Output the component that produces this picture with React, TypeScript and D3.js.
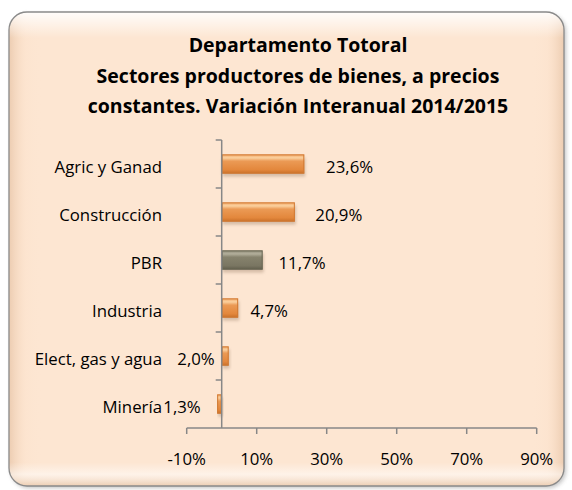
import React from "react";
import * as d3 from "d3";

const categories = ["Agric y Ganad", "Construcción", "PBR", "Industria", "Elect, gas y agua", "Minería"];
const values = [23.6, 20.9, 11.7, 4.7, 2.0, -1.3];
const valueLabels = ["23,6%", "20,9%", "11,7%", "4,7%", "2,0%", "1,3%"];
const highlighted = ["PBR"];
const xTicks = [-10, 10, 30, 50, 70, 90];
const titleLines = [
  "Departamento Totoral",
  "Sectores productores de bienes, a precios",
  "constantes. Variación Interanual 2014/2015",
];

const W = 572;
const H = 490;
const FONT = "'Open Sans', 'Noto Sans', sans-serif";
const LABEL_SIZE = 16.8;

export default function App() {
  const x = d3.scaleLinear().domain([-10, 90]).range([186.7, 536.7]);
  const y = d3.scaleBand<string>().domain(categories).range([140, 428]).paddingInner(0.6).paddingOuter(0.3);
  const band = d3.scaleBand<string>().domain(categories).range([140, 428]);
  const x0 = x(0);
  const axisColor = "#878787";
  const fx = 9, fy = 12, fw = 555, fh = 474;

  return (
    <svg width={W} height={H} style={{ position: "absolute", left: 0, top: 0 }} fontFamily={FONT}>
      <defs>
        <linearGradient id="bgV" x1="0" y1="0" x2="0" y2="1">
          <stop offset="0" stopColor="#ffffff" stopOpacity="0.9" />
          <stop offset="0.055" stopColor="#ffffff" stopOpacity="0" />
          <stop offset="0.95" stopColor="#ffffff" stopOpacity="0" />
          <stop offset="0.975" stopColor="#ffffff" stopOpacity="0.5" />
          <stop offset="1" stopColor="#e8c7aa" stopOpacity="0.8" />
        </linearGradient>
        <linearGradient id="bgH" x1="0" y1="0" x2="1" y2="0">
          <stop offset="0" stopColor="#eac9ad" stopOpacity="0.9" />
          <stop offset="0.03" stopColor="#fbe0c9" stopOpacity="0.3" />
          <stop offset="0.06" stopColor="#fde6d2" stopOpacity="0" />
          <stop offset="0.94" stopColor="#fde6d2" stopOpacity="0" />
          <stop offset="0.97" stopColor="#fbe0c9" stopOpacity="0.3" />
          <stop offset="1" stopColor="#eac9ad" stopOpacity="0.9" />
        </linearGradient>
        <linearGradient id="barOrange" x1="0" y1="0" x2="0" y2="1">
          <stop offset="0" stopColor="#f3a868" />
          <stop offset="0.18" stopColor="#fbd19f" />
          <stop offset="0.35" stopColor="#eb9a55" />
          <stop offset="0.8" stopColor="#e3873c" />
          <stop offset="1" stopColor="#c86e28" />
        </linearGradient>
        <linearGradient id="barGray" x1="0" y1="0" x2="0" y2="1">
          <stop offset="0" stopColor="#8e8a76" />
          <stop offset="0.18" stopColor="#b3af9c" />
          <stop offset="0.35" stopColor="#86826d" />
          <stop offset="0.8" stopColor="#7a7662" />
          <stop offset="1" stopColor="#5f5c4b" />
        </linearGradient>
        <filter id="frameShadow" x="-5%" y="-5%" width="110%" height="110%">
          <feGaussianBlur stdDeviation="2" />
        </filter>
        <filter id="barShadow" x="-20%" y="-50%" width="140%" height="200%">
          <feGaussianBlur stdDeviation="1.5" />
        </filter>
      </defs>

      {/* frame */}
      <rect x={fx + 2} y={fy + 2} width={fw} height={fh} rx={18} fill="#9a9a9a" opacity={0.6} filter="url(#frameShadow)" />
      <rect x={fx} y={fy} width={fw} height={fh} rx={18} fill="#fde6d2" />
      <rect x={fx} y={fy} width={fw} height={fh} rx={18} fill="url(#bgH)" />
      <rect x={fx} y={fy} width={fw} height={fh} rx={18} fill="url(#bgV)" />
      <rect x={fx} y={fy} width={fw} height={fh} rx={18} fill="none" stroke="#8a8a8a" strokeWidth={1.3} />

      {/* title */}
      {titleLines.map((t, i) => (
        <text key={i} x={298} y={52 + i * 30.5} textAnchor="middle" fontSize={19.5} fontWeight={700} fill="#000">
          {t}
        </text>
      ))}

      {/* bars */}
      {categories.map((c, i) => {
        const v = values[i];
        const bx = Math.min(x(v), x0);
        const bw = Math.abs(x(v) - x0);
        const by = y(c)!;
        const bh = y.bandwidth();
        const isHi = highlighted.includes(c);
        return (
          <g key={c}>
            <rect x={bx + 1} y={by + 3} width={bw} height={bh} fill="#8a6d55" opacity={0.35} filter="url(#barShadow)" />
            <rect x={bx} y={by} width={bw} height={bh} fill={isHi ? "url(#barGray)" : "url(#barOrange)"} />
            <rect x={bx + 0.5} y={by + 0.5} width={Math.max(bw - 1, 0)} height={bh - 1} fill="none" stroke={isHi ? "#6a6754" : "#d07a34"} strokeWidth={1} />
          </g>
        );
      })}

      {/* y axis */}
      <line x1={x0} x2={x0} y1={140} y2={428} stroke={axisColor} strokeWidth={1.5} />
      {categories.map((c) => (
        <line key={c} x1={x0 - 6} x2={x0} y1={band(c)!} y2={band(c)!} stroke={axisColor} strokeWidth={1.5} />
      ))}

      {/* x axis */}
      <line x1={x(-10)} x2={x(90)} y1={428} y2={428} stroke={axisColor} strokeWidth={1.5} />
      {xTicks.map((t) => (
        <g key={t}>
          <line x1={x(t)} x2={x(t)} y1={428} y2={434} stroke={axisColor} strokeWidth={1.5} />
          <text x={x(t)} y={465} textAnchor="middle" fontSize={LABEL_SIZE} fill="#000">
            {t}%
          </text>
        </g>
      ))}

      {/* category labels */}
      {categories.map((c) => (
        <text key={c} x={162} y={y(c)! + y.bandwidth() / 2 + 9} textAnchor="end" fontSize={LABEL_SIZE} fill="#000">
          {c}
        </text>
      ))}

      {/* value labels */}
      {categories.map((c, i) => {
        const v = values[i];
        const small = Math.abs(v) < 3;
        const lx = small ? x0 - 7 - (v < 0 ? 14 : 0) : x(v) + 10 + v * 0.5;
        return (
          <text key={c} x={lx} y={y(c)! + y.bandwidth() / 2 + 9} textAnchor={small ? "end" : "start"} fontSize={LABEL_SIZE} fill="#000">
            {valueLabels[i]}
          </text>
        );
      })}
    </svg>
  );
}
